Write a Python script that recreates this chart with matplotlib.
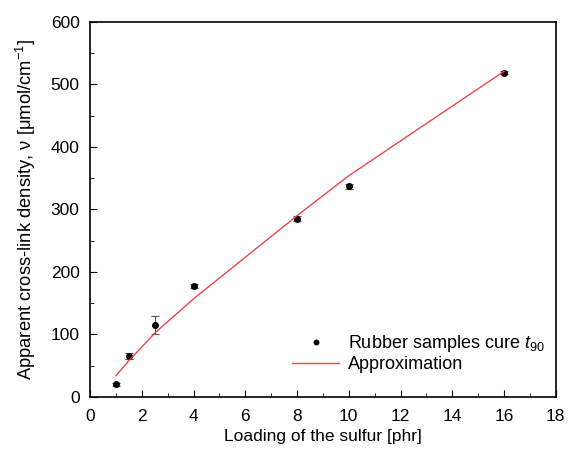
import matplotlib
matplotlib.use('Agg')
import matplotlib.pyplot as plt
from matplotlib.ticker import MultipleLocator

plt.rcParams['font.family'] = ['Liberation Sans', 'DejaVu Sans']
plt.rcParams['mathtext.fontset'] = 'custom'
plt.rcParams['mathtext.it'] = 'Liberation Sans:italic'
plt.rcParams['mathtext.rm'] = 'Liberation Sans'

# measured samples
sulfur = [1, 1.5, 2.5, 4, 8, 10, 16]
density = [20, 65, 115, 178, 285, 337, 519]
density_err = [3, 5, 15, 3, 4, 4, 3]

# approximation curve
approx_x = [1, 1.5, 2.5, 4, 8, 10, 16]
approx_y = [34, 58, 102, 157, 290, 354, 521]

fig = plt.figure(figsize=(5.7, 4.49), dpi=100)
ax = fig.add_axes([0.158, 0.116, 0.817, 0.835])

ax.errorbar(sulfur, density, yerr=density_err, fmt='none',
            ecolor='#555555', elinewidth=0.8, capsize=3, capthick=0.8)
ax.plot(sulfur, density, 'o', color='black', markersize=4,
        label='Rubber samples cure $\\mathit{t}_{90}$')
ax.plot(approx_x, approx_y, color='#e8474b', linewidth=1, label='Approximation')

ax.set_xlim(0, 18)
ax.set_ylim(0, 600)
ax.xaxis.set_major_locator(MultipleLocator(2))
ax.xaxis.set_minor_locator(MultipleLocator(1))
ax.yaxis.set_major_locator(MultipleLocator(100))
ax.yaxis.set_minor_locator(MultipleLocator(50))
ax.tick_params(which='both', direction='in', labelsize=12.5)
ax.tick_params(axis='x', which='major', pad=8.5)
ax.tick_params(axis='y', which='major', pad=7.5)
ax.tick_params(which='major', length=5)
ax.tick_params(which='minor', length=3)
for s in ax.spines.values():
    s.set_linewidth(1.2)

ax.set_xlabel('Loading of the sulfur [phr]', fontsize=12.5, labelpad=4)
ax.set_ylabel('Apparent cross-link density, ν [μmol/cm$^{-1}$]', fontsize=13.2, labelpad=9)

leg = ax.legend(loc='lower right', bbox_to_anchor=(1.0, 0.035), frameon=False,
                fontsize=13, handlelength=2.6, handletextpad=0.5,
                labelspacing=0.1, borderaxespad=0.2, markerscale=0.8)

fig.savefig('out.png', dpi=100)
